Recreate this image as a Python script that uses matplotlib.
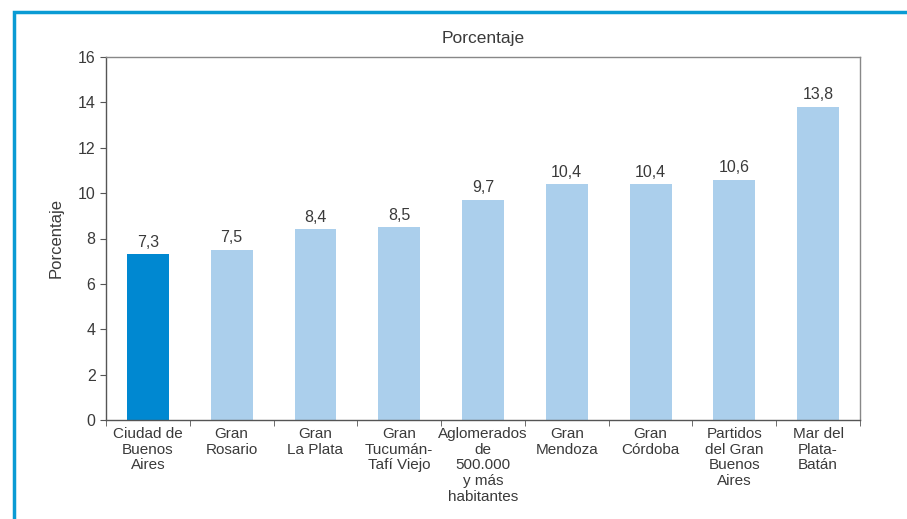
import matplotlib
matplotlib.use("Agg")
import matplotlib.pyplot as plt
from matplotlib.patches import Rectangle
import numpy as np

categories = ["Ciudad de\nBuenos\nAires", "Gran\nRosario", "Gran\nLa Plata",
              "Gran\nTucumán-\nTafí Viejo", "Aglomerados\nde\n500.000\ny más\nhabitantes",
              "Gran\nMendoza", "Gran\nCórdoba", "Partidos\ndel Gran\nBuenos\nAires",
              "Mar del\nPlata-\nBatán"]
values = [7.3, 7.5, 8.4, 8.5, 9.7, 10.4, 10.4, 10.6, 13.8]
labels = ["7,3", "7,5", "8,4", "8,5", "9,7", "10,4", "10,4", "10,6", "13,8"]
colors = ["#0088D1"] + ["#ABCFEC"] * 8

plt.rcParams['font.family'] = ['Liberation Sans', 'DejaVu Sans']
txt = "#3a3a3a"

fig = plt.figure(figsize=(9.07, 5.19), dpi=100)
W, H = 907, 519
ax = fig.add_axes([106 / W, 1 - 420 / H, (860 - 106) / W, (420 - 57) / H])

x = np.arange(len(values))
ax.bar(x, values, width=0.5, color=colors, zorder=2)
for xi, v, lab in zip(x, values, labels):
    ax.text(xi, v + 0.2, lab, ha="center", va="bottom", fontsize=11.5, color=txt)

ax.set_xlim(-0.5, len(values) - 0.5)
ax.set_ylim(0, 16)
ax.set_yticks(range(0, 17, 2))
ax.set_xticks(x)
ax.set_xticklabels(categories, fontsize=11, color=txt, linespacing=1.16)
ax.tick_params(axis="x", which="major", length=0, pad=5)
ax.set_xticks(np.arange(-0.5, len(values), 1), minor=True)
ax.tick_params(axis="x", which="minor", length=4, color="#555555")
ax.tick_params(axis="y", length=4, color="#555555", labelsize=11.5, labelcolor=txt)

for s in ["left", "bottom"]:
    ax.spines[s].set_color("#555555")
    ax.spines[s].set_linewidth(1.0)
for s in ["top", "right"]:
    ax.spines[s].set_color("#888888")
    ax.spines[s].set_linewidth(1.0)

ax.set_ylabel("Porcentaje", fontsize=12, color=txt, labelpad=10)
fig.text((106 + 860) / 2 / W, 1 - 38 / H, "Porcentaje", ha="center", va="center",
         fontsize=12.5, color=txt)

# frame border (top and left visible)
fig.patches.append(Rectangle((13.5 / W, -0.1), 1.2, (1 - 12 / H) + 0.1,
                             transform=fig.transFigure, fill=False,
                             edgecolor="#0A9BD4", linewidth=2.5))

fig.savefig("out.png", dpi=100)
